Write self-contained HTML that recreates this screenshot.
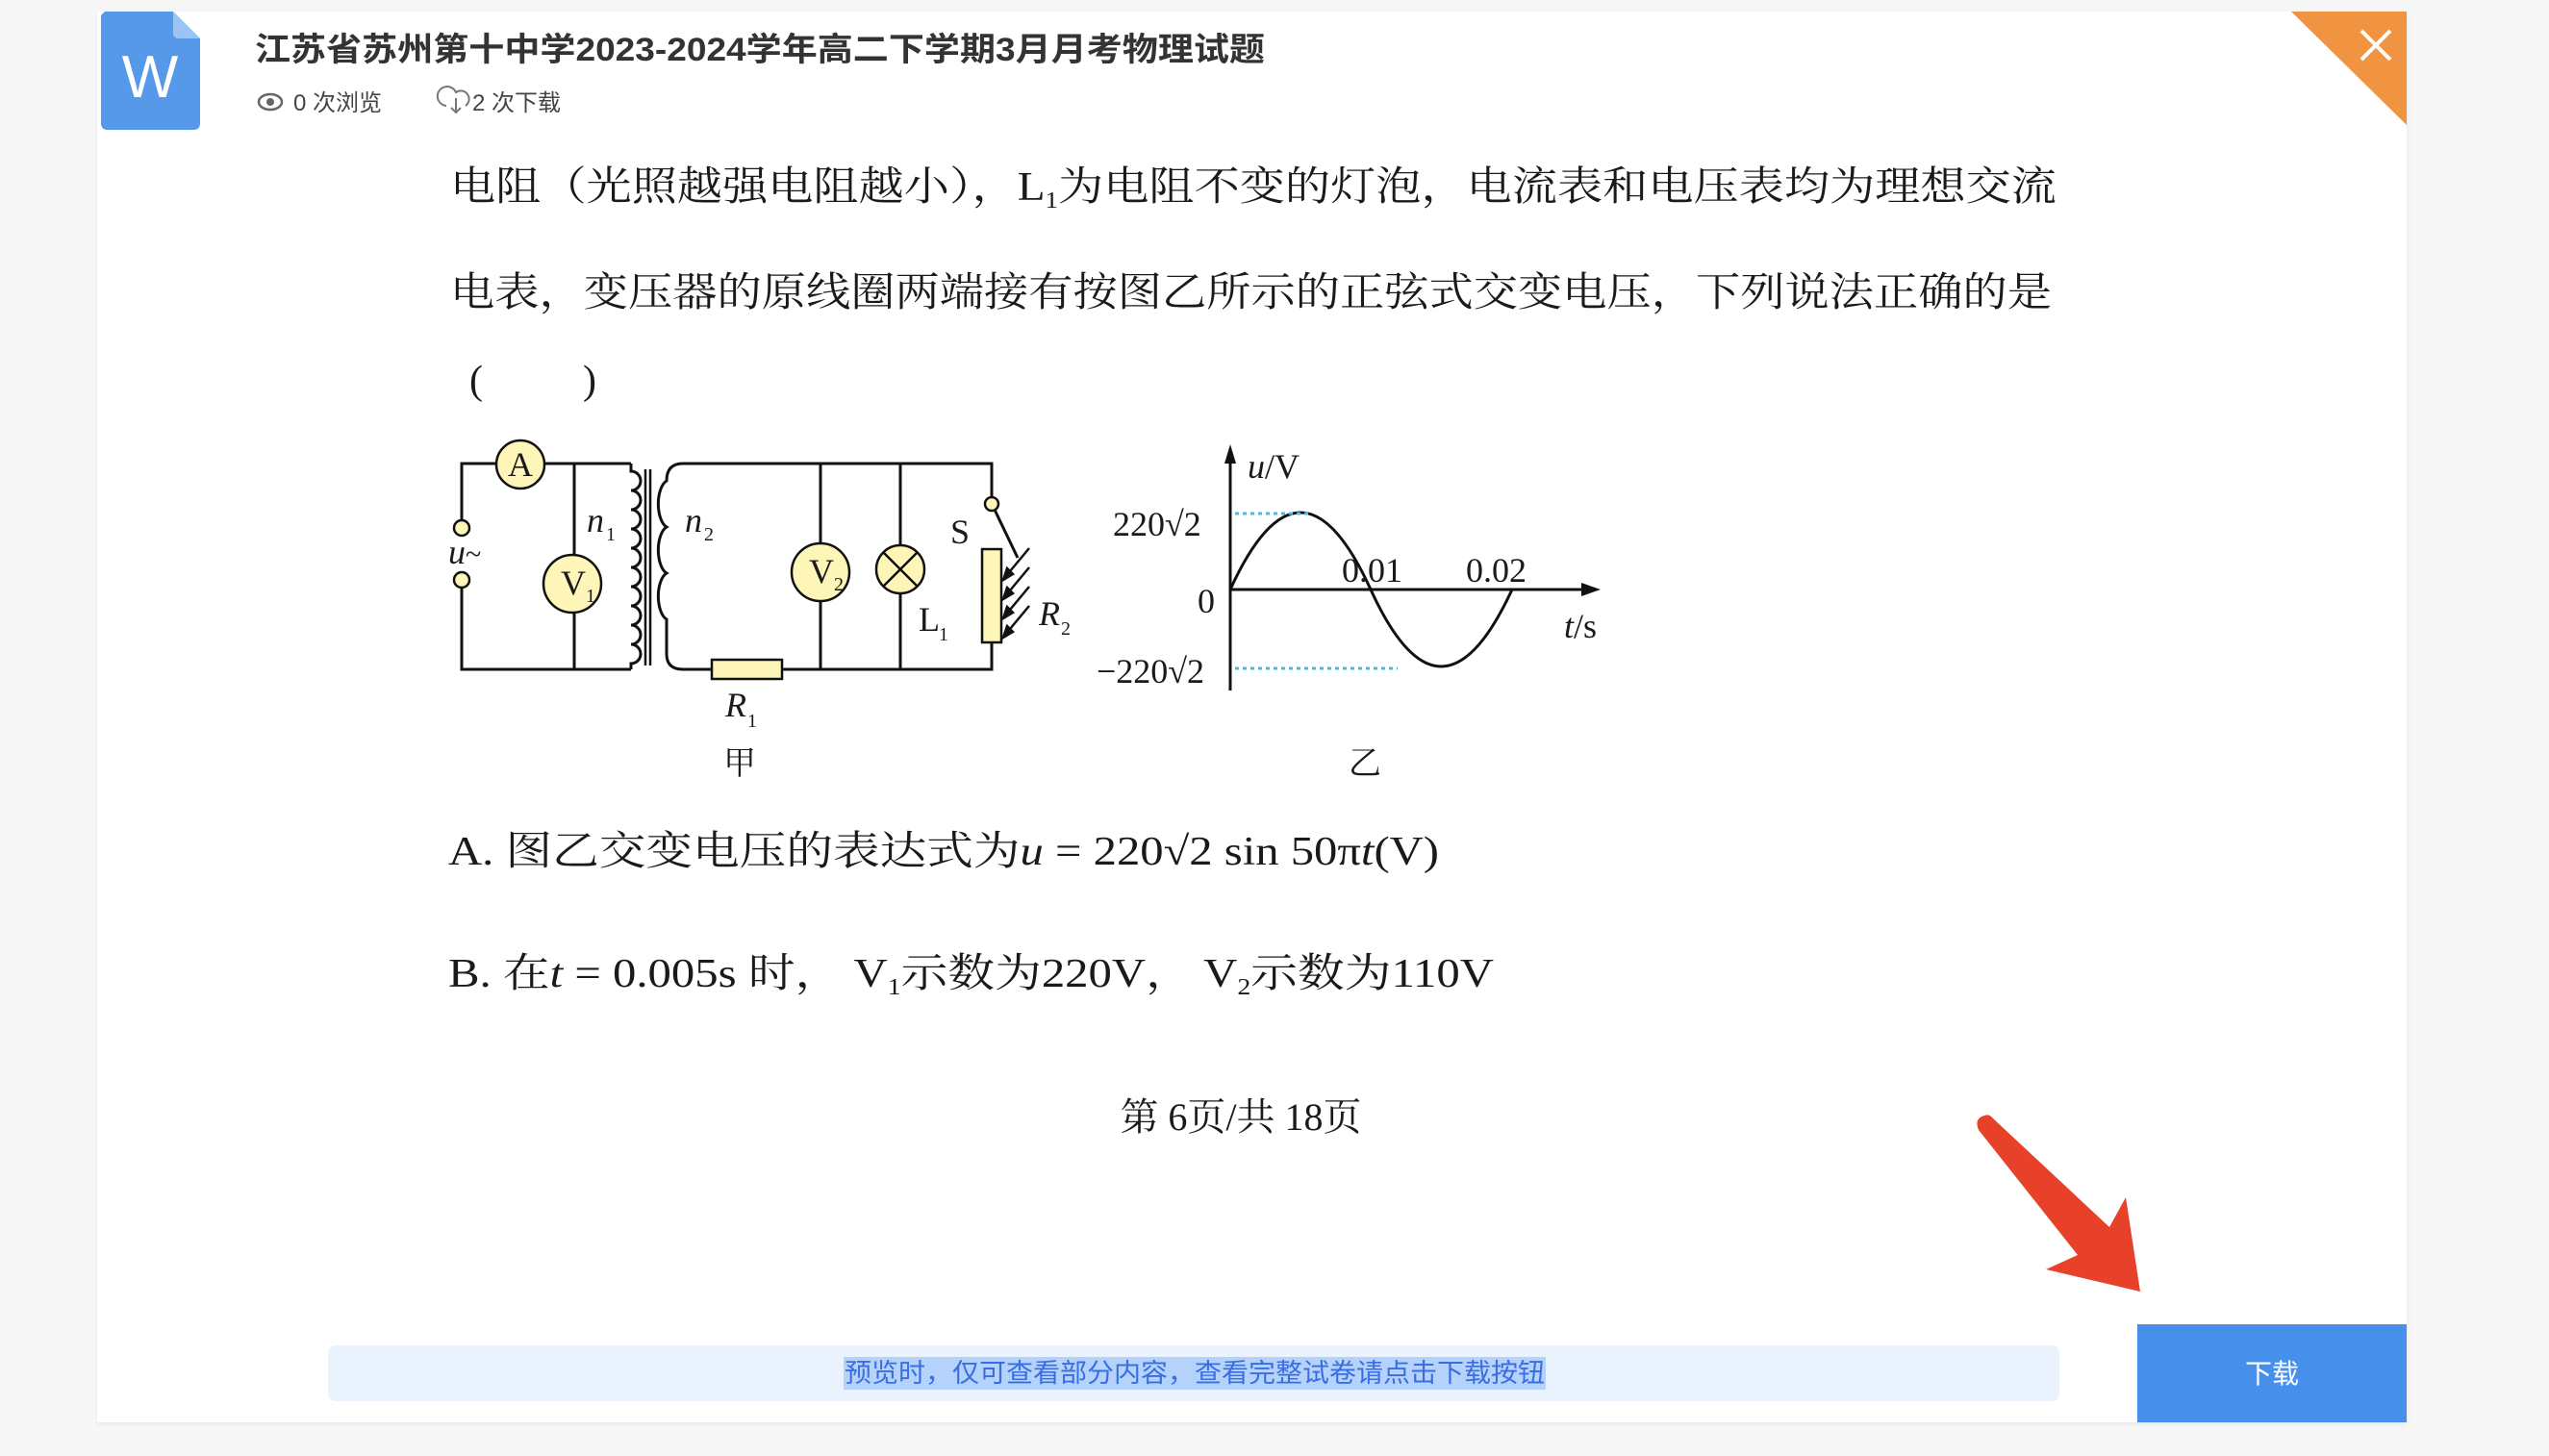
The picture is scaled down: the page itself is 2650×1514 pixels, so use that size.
<!DOCTYPE html>
<html><head><meta charset="utf-8"><style>
html,body{margin:0;padding:0;background:#f7f7f7;width:2650px;height:1514px;overflow:hidden}
svg{position:absolute;left:0;top:0}
.s{font-family:"Liberation Serif","Noto Serif CJK SC",serif;fill:#1a1a1a}
.k{font-family:"Liberation Sans","Noto Sans CJK SC",sans-serif}
.i{font-style:italic}
</style></head><body>
<svg width="2650" height="1514" viewBox="0 0 2650 1514">
<defs><filter id="sh"><feDropShadow dx="0" dy="2" stdDeviation="3" flood-color="#000" flood-opacity="0.06"/></filter></defs>
<rect x="101" y="12" width="2401" height="1467" fill="#fff" filter="url(#sh)"/>
<!-- W icon -->
<path d="M109 12 H180 L208 40 V128 Q208 135 201 135 H112 Q105 135 105 128 V16 Z" fill="#5599e8"/>
<path d="M180 12 L208 40 H186 Q180 40 180 34 Z" fill="#9cc4f3"/>
<text x="156" y="101" class="k" font-size="62" fill="#fff" text-anchor="middle">W</text>
<!-- title -->
<text x="265" y="63" class="k" font-size="34" font-weight="bold" fill="#333" textLength="1050" lengthAdjust="spacingAndGlyphs">江苏省苏州第十中学2023-2024学年高二下学期3月月考物理试题</text>
<ellipse cx="281" cy="106" rx="12" ry="8" fill="none" stroke="#666" stroke-width="2.5"/><circle cx="281" cy="106" r="4" fill="#666"/>
<text x="305" y="115" class="k" font-size="24" fill="#444">0 次浏览</text>
<path d="M464 110 a10 10 0 1 1 10 -14 a8 8 0 0 1 10 14 M474 102 v14 M469 112 l5 5 l5 -5" fill="none" stroke="#777" stroke-width="2"/>
<text x="491" y="115" class="k" font-size="24" fill="#444">2 次下载</text>
<!-- orange corner -->
<polygon points="2382,12 2502,12 2502,130" fill="#f09442"/>
<path d="M2455 32 L2485 62 M2485 32 L2455 62" stroke="#fff" stroke-width="4"/>
<!-- body text -->
<text x="468" y="208" class="s" font-size="42" textLength="1670" lengthAdjust="spacingAndGlyphs">电阻（光照越强电阻越小），L<tspan font-size="24" dy="8">1</tspan><tspan dy="-8">为电阻不变的灯泡，电流表和电压表均为理想交流</tspan></text>
<text x="468" y="318" class="s" font-size="42" textLength="1665" lengthAdjust="spacingAndGlyphs">电表，变压器的原线圈两端接有按图乙所示的正弦式交变电压，下列说法正确的是</text>
<text x="488" y="409" class="s" font-size="42">(</text><text x="606" y="409" class="s" font-size="42">)</text>
<!-- circuit -->
<g stroke="#111" stroke-width="3" fill="none">
<path d="M480 549 V482 H656 M480 603 V696 H656"/>
<path d="M597 482 V696"/>
<path d="M656 482 V490 a10 10 0 0 1 0 20 a10 10 0 0 1 0 20 a10 10 0 0 1 0 20 a10 10 0 0 1 0 20 a10 10 0 0 1 0 20 a10 10 0 0 1 0 20 a10 10 0 0 1 0 20 a10 10 0 0 1 0 20 a10 10 0 0 1 0 20 a10 10 0 0 1 0 20 V696"/>
<path d="M671 488 V692 M676 488 V692" stroke-width="2.5"/>
<path d="M710 482 Q693 482 693 500 a12 25 0 0 0 0 48 a12 25 0 0 0 0 48 a12 25 0 0 0 0 48 V680 Q693 696 710 696 H740 M813 696 H1031 V668 M710 482 H1031 V518"/>
<path d="M853 482 V696 M936 482 V696 M1031 571 V668"/>
<path d="M1034 530 L1058 580"/>
</g>
<g stroke="#111" stroke-width="2.5" fill="#fdf6b8">
<circle cx="541" cy="483" r="25"/>
<circle cx="595" cy="607" r="30"/>
<circle cx="853" cy="595" r="30"/>
<circle cx="936" cy="592" r="25"/>
<rect x="740" y="686" width="73" height="20"/>
<rect x="1021" y="571" width="20" height="97"/>
<circle cx="480" cy="549" r="8" /><circle cx="480" cy="603" r="8"/>
<circle cx="1031" cy="524" r="7"/>
</g>
<path d="M919 575 L953 609 M953 575 L919 609" stroke="#111" stroke-width="2.5"/>
<g stroke="#111" stroke-width="2.5" fill="#111">
<path d="M1070 570 L1045 600 M1070 590 L1045 620 M1070 610 L1045 640 M1070 630 L1045 660" fill="none"/>
<path d="M1043 603 l4 -12 l6 6 z M1043 623 l4 -12 l6 6 z M1043 643 l4 -12 l6 6 z M1043 663 l4 -12 l6 6 z"/>
</g>
<g class="s" font-size="36">
<text x="541" y="495" text-anchor="middle">A</text>
<text x="583" y="618">V<tspan font-size="20" dy="8">1</tspan></text>
<text x="841" y="606">V<tspan font-size="20" dy="8">2</tspan></text>
<text x="466" y="586" class="i">u</text><text x="484" y="586" font-size="30">~</text>
<text x="610" y="553" class="i">n</text><text x="630" y="562" font-size="20">1</text>
<text x="712" y="553" class="i">n</text><text x="732" y="562" font-size="20">2</text>
<text x="988" y="565">S</text>
<text x="955" y="656">L</text><text x="976" y="666" font-size="20">1</text>
<text x="1080" y="650" class="i">R</text><text x="1103" y="660" font-size="20">2</text>
<text x="754" y="745" class="i">R</text><text x="777" y="756" font-size="20">1</text>
<text x="752" y="805" font-size="34">甲</text>
<text x="1402" y="805" font-size="34">乙</text>
</g>
<!-- graph -->
<g stroke="#111" stroke-width="3" fill="none">
<path d="M1279 718 V470 M1279 613 H1650"/>
<path d="M1279 613 Q1352 453 1425 613 Q1498 773 1572 613"/>
</g>
<path d="M1279 462 l-6 20 h12 z M1664 613 l-20 -7 v14 z" fill="#111"/>
<path d="M1284 534 H1360 M1284 695 H1453" stroke="#4db8d8" stroke-width="3" stroke-dasharray="4 4"/>
<g class="s" font-size="36">
<text x="1297" y="497"><tspan class="i">u</tspan>/V</text>
<text x="1157" y="557">220√2</text>
<text x="1245" y="637">0</text>
<text x="1140" y="710">−220√2</text>
<text x="1626" y="663"><tspan class="i">t</tspan>/s</text>
<text x="1395" y="605">0.01</text>
<text x="1524" y="605">0.02</text>
</g>
<!-- options -->
<text x="466" y="899" class="s" font-size="42" textLength="1030" lengthAdjust="spacingAndGlyphs">A. 图乙交变电压的表达式为<tspan class="i">u</tspan> = 220√2 sin 50π<tspan class="i">t</tspan>(V)</text>
<text x="466" y="1026" class="s" font-size="42" textLength="1087" lengthAdjust="spacingAndGlyphs">B. 在<tspan class="i">t</tspan> = 0.005s 时， V<tspan font-size="24" dy="8">1</tspan><tspan dy="-8">示数为220V， V</tspan><tspan font-size="24" dy="8">2</tspan><tspan dy="-8">示数为110V</tspan></text>
<text x="1290" y="1175" class="s" font-size="40" text-anchor="middle">第 6页/共 18页</text>
<!-- red arrow -->
<path d="M2057 1175 Q2052 1163 2063 1160 Q2068 1158 2072 1163 L2193 1276 L2210 1245 L2225 1343 L2127 1320 L2160 1305 Z" fill="#e8412a"/>
<!-- bottom bar -->
<rect x="341" y="1399" width="1800" height="58" rx="8" fill="#eaf2fd"/>
<rect x="877" y="1411" width="730" height="34" fill="#b4d2fa"/>
<text x="1242" y="1437" class="k" font-size="27" fill="#3a6ee0" text-anchor="middle" textLength="728" lengthAdjust="spacingAndGlyphs">预览时，仅可查看部分内容，查看完整试卷请点击下载按钮</text>
<rect x="2222" y="1377" width="280" height="102" fill="#4690ec"/>
<text x="2362" y="1438" class="k" font-size="28" fill="#fff" text-anchor="middle">下载</text>
</svg>
</body></html>
